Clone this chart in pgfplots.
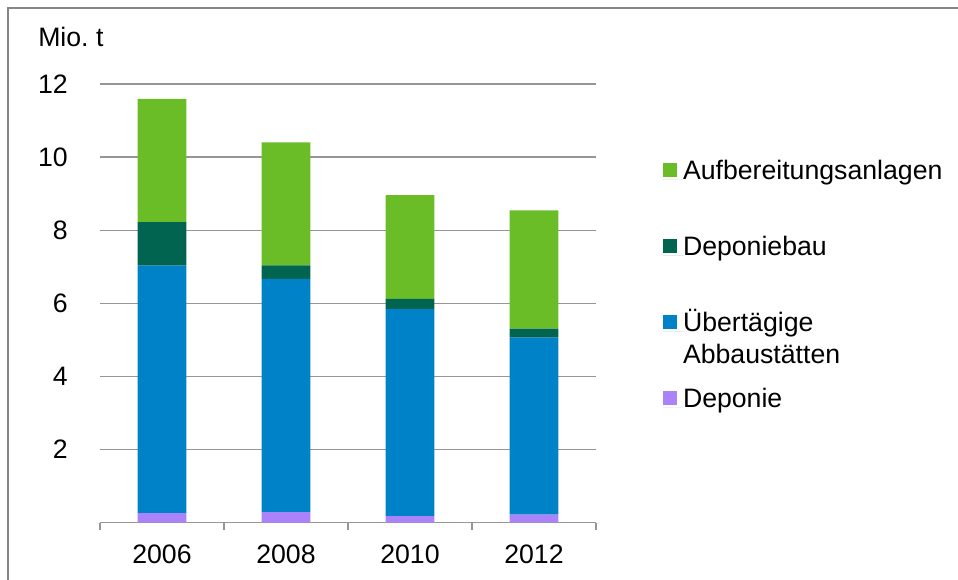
\documentclass[border=0pt]{standalone}
\usepackage{pgfplots}
\pgfplotsset{compat=1.18}
\usepackage{fontspec}
\setmainfont{Liberation Sans}

\definecolor{cAuf}{RGB}{107,189,40}
\definecolor{cDpb}{RGB}{0,100,80}
\definecolor{cUeb}{RGB}{0,130,200}
\definecolor{cDep}{RGB}{170,130,250}
\definecolor{cGrid}{RGB}{150,150,150}
\definecolor{cFrame}{RGB}{134,134,134}

\begin{document}
\begin{tikzpicture}
\fontsize{20}{24}\selectfont
\useasboundingbox (0,0) rectangle (718.5pt,435pt);
\draw[cFrame, line width=1.5pt] (6pt,0) -- (6pt,429pt) -- (718.5pt,429pt);
\node[anchor=base west, inner sep=0pt] at (28.5pt,399.75pt) {Mio.\ t};
\begin{axis}[
  at={(75pt,43pt)}, anchor=south west,
  scale only axis,
  width=372pt, height=329pt,
  ybar stacked, bar width=36.5pt,
  xmin=-0.5, xmax=3.5,
  ymin=0, ymax=12,
  xtick={0,1,2,3},
  xticklabels={2006,2008,2010,2012},
  minor xtick={-0.5,0.5,1.5,2.5,3.5},
  ytick={2,4,6,8,10,12},
  axis x line*=bottom,
  axis y line*=left,
  y axis line style={draw=none},
  x axis line style={cGrid, line width=1pt},
  ymajorgrids,
  grid style={cGrid, line width=1pt},
  major tick length=0pt,
  minor tick length=5.5pt,
  xtick align=outside,
  xtick style={cGrid, line width=1pt},
  ytick style={draw=none},
  tick label style={font=\fontsize{20}{24}\selectfont},
  /pgf/number format/assume math mode=true,
  yticklabel style={anchor=east, inner sep=0pt, xshift=-24pt},
  xticklabel style={anchor=north, inner sep=0pt, yshift=-16.7pt},
  reverse legend,
  legend image code/.code={\path (0pt,0pt) -- (15pt,0pt);
    \fill[#1] (0pt,2.25pt) rectangle (10.5pt,12.75pt);},
  legend style={
    draw=none, fill=none, inner sep=0pt, outer sep=0pt,
    at={(1.1351,0.8238)}, anchor=north west,
    row sep=39pt,
    font=\fontsize{20}{24}\selectfont,
    nodes={inner sep=0pt, text height=14pt, text depth=4pt, anchor=base west},
  },
  legend cell align=left,
]
\addplot[fill=cDep, draw=none] coordinates {(0,0.26) (1,0.29) (2,0.18) (3,0.22)};
\addlegendentry{Deponie}
\addplot[fill=cUeb, draw=none] coordinates {(0,6.77) (1,6.38) (2,5.66) (3,4.84)};
\addlegendentry{\begin{tabular}[t]{@{}l@{}}Übertägige\\Abbaustätten\end{tabular}}
\addplot[fill=cDpb, draw=none] coordinates {(0,1.19) (1,0.37) (2,0.28) (3,0.25)};
\addlegendentry{Deponiebau}
\addplot[fill=cAuf, draw=none] coordinates {(0,3.37) (1,3.36) (2,2.84) (3,3.23)};
\addlegendentry{Aufbereitungsanlagen}
\end{axis}
\end{tikzpicture}
\end{document}
